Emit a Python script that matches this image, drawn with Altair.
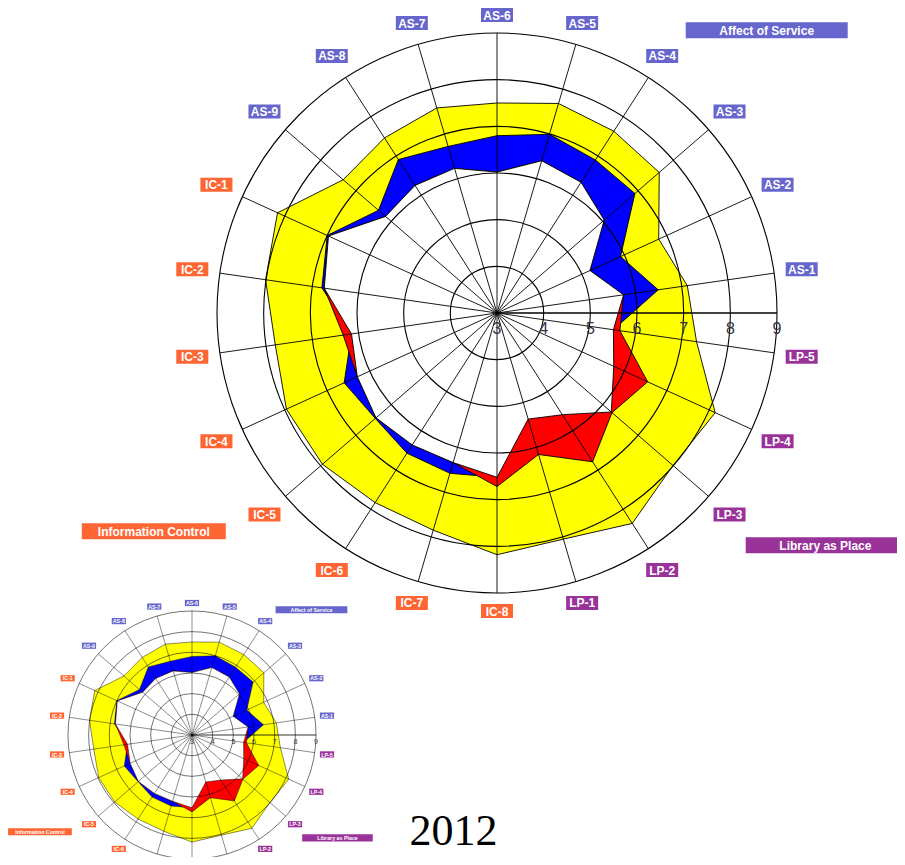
import math
import altair as alt
import pandas as pd

# ---------------- data ----------------
items = ["AS-1", "AS-2", "AS-3", "AS-4", "AS-5", "AS-6", "AS-7", "AS-8", "AS-9",
         "IC-1", "IC-2", "IC-3", "IC-4", "IC-5", "IC-6", "IC-7", "IC-8",
         "LP-1", "LP-2", "LP-3", "LP-4", "LP-5"]
desired = [7.12, 6.81, 7.60, 7.63, 7.68, 7.50, 7.58, 7.46, 7.36,
           8.17, 8.01, 7.80, 7.96, 7.95, 7.83, 7.85, 8.18,
           8.05, 8.36, 7.99, 8.14, 7.32]
perceived = [6.49, 5.91, 6.91, 6.90, 6.99, 6.80, 6.72, 6.91, 6.36,
             7.00, 6.79, 6.15, 6.60, 6.45, 6.57, 6.58, 6.52,
             5.37, 5.59, 6.24, 5.75, 5.52]
minimum = [5.74, 5.19, 6.04, 6.33, 6.40, 6.02, 6.23, 6.25, 6.16,
           6.97, 6.74, 6.33, 6.29, 6.43, 6.36, 6.34, 6.72,
           6.16, 6.79, 6.26, 6.55, 5.66]
dimensions = ["Affect of Service", "Information Control", "Library as Place"]
dim_codes = ["AS", "IC", "LP"]
scale_ticks = [3, 4, 5, 6, 7, 8, 9]
year_label = "2012"

# ---------------- layout / style ----------------
W, H = 889, 849
N = len(items)
VMIN, VMAX = scale_ticks[0], scale_ticks[-1]
R_OUT = 280.0
COPIES = [(497.0, 313.0, 1.0), (192.0, 735.0, 0.443)]
DIM_COLORS = ["#6666cc", "#ff6633", "#993399"]
# group-title boxes: offset from centre (image px, y down) and box width
GROUP_BOX = {"Affect of Service": (269.7, -282.7, 162.0),
             "Information Control": (-343.2, 218.3, 144.0),
             "Library as Place": (328.4, 232.3, 159.4)}
FONT = "Liberation Sans"

xs = alt.Scale(domain=[8, 8 + W], nice=False, zero=False)
ys = alt.Scale(domain=[8, 8 + H], nice=False, zero=False, reverse=True)


def X(f):
    return alt.X(f"{f}:Q", scale=xs, axis=None)


def Y(f):
    return alt.Y(f"{f}:Q", scale=ys, axis=None)


color_scale = alt.Scale(domain=dimensions, range=DIM_COLORS)

df = pd.DataFrame({
    "item": items,
    "idx": list(range(N)),
    "D": desired,
    "P": perceived,
    "M": minimum,
    "dim": [dimensions[dim_codes.index(it.split("-")[0])] for it in items],
})
ticks_df = pd.DataFrame({"v": scale_ticks})
groups_df = pd.DataFrame({
    "dim": dimensions,
    "dx": [GROUP_BOX[d][0] for d in dimensions],
    "dy": [GROUP_BOX[d][1] for d in dimensions],
    "w": [GROUP_BOX[d][2] for d in dimensions],
})

ANG = f"(90 + (datum.idx - 5) * 360 / {N}) * PI / 180"


def radar(cx, cy, s):
    U = R_OUT * s / (VMAX - VMIN)
    lw = max(0.5, 1.0 * s)
    layers = []

    def poly(expr, color):
        return alt.Chart(df).transform_calculate(
            ang=ANG,
            v=expr,
            px=f"{cx} + (datum.v - {VMIN}) * {U} * cos(datum.ang)",
            py=f"{cy} - (datum.v - {VMIN}) * {U} * sin(datum.ang)",
        ).mark_line(
            interpolate="linear-closed", fill=color, stroke="black",
            strokeWidth=0.9 * lw, strokeJoin="miter"
        ).encode(x=X("px"), y=Y("py"), order=alt.Order("idx:Q"))

    layers.append(poly("datum.D", "#ffff00"))
    layers.append(poly("datum.P", "#0000ff"))
    layers.append(poly("datum.M", "#ff0000"))
    layers.append(poly("min(datum.P, datum.M)", "#ffffff"))

    # rings
    layers.append(
        alt.Chart(ticks_df).transform_filter(f"datum.v > {VMIN}").transform_calculate(
            cxv=f"{cx}", cyv=f"{cy}", rr=f"(datum.v - {VMIN}) * {U}"
        ).mark_arc(theta=0, theta2=2 * math.pi, fillOpacity=0, stroke="black",
                   strokeWidth=1.1 * lw).encode(
            x=X("cxv"), y=Y("cyv"),
            radius=alt.Radius("rr:Q", scale=None, stack=None),
            detail="v:Q",
        )
    )
    # spokes
    layers.append(
        alt.Chart(df).transform_calculate(
            ang=ANG,
            x0=f"{cx}", y0=f"{cy}",
            x1=f"{cx} + {R_OUT * s} * cos(datum.ang)",
            y1=f"{cy} - {R_OUT * s} * sin(datum.ang)",
        ).mark_rule(color="black", strokeWidth=0.9 * lw).encode(
            x=X("x0"), y=Y("y0"), x2=alt.X2("x1:Q"), y2=alt.Y2("y1:Q")
        )
    )
    # horizontal scale axis
    layers.append(
        alt.Chart(ticks_df).transform_filter(f"datum.v == {VMAX}").transform_calculate(
            x0=f"{cx}", y0=f"{cy}", x1=f"{cx} + (datum.v - {VMIN}) * {U}"
        ).mark_rule(color="black", strokeWidth=1.6 * lw).encode(
            x=X("x0"), y=Y("y0"), x2=alt.X2("x1:Q")
        )
    )
    # scale numbers
    layers.append(
        alt.Chart(ticks_df).transform_calculate(
            px=f"{cx} + (datum.v - {VMIN}) * {U}", py=f"{cy} + {20.7 * s}"
        ).mark_text(font=FONT, fontSize=16 * s, color="#333344", align="center",
                    baseline="alphabetic").encode(
            x=X("px"), y=Y("py"), text=alt.Text("v:Q")
        )
    )
    # item label boxes + text
    lab = alt.Chart(df).transform_calculate(
        ang=ANG,
        lr=f"{291 * s} + {16 * s} * abs(cos(datum.ang)) + {7 * s} * abs(sin(datum.ang))",
        lx=f"{cx} + datum.lr * cos(datum.ang)",
        ly=f"{cy} - datum.lr * sin(datum.ang)",
        bx0=f"datum.lx - {16 * s}", bx1=f"datum.lx + {16 * s}",
        by0=f"datum.ly - {7 * s}", by1=f"datum.ly + {7 * s}",
    )
    layers.append(
        lab.mark_rect().encode(
            x=X("bx0"), x2=alt.X2("bx1:Q"), y=Y("by0"), y2=alt.Y2("by1:Q"),
            color=alt.Color("dim:N", scale=color_scale, legend=None)
        )
    )
    layers.append(
        lab.mark_text(font=FONT, fontWeight="bold", fontSize=12 * s, color="white",
                      align="center", baseline="middle", dy=0.5 * s).encode(
            x=X("lx"), y=Y("ly"), text=alt.Text("item:N")
        )
    )
    # dimension title boxes
    grp = alt.Chart(groups_df).transform_calculate(
        gx=f"{cx} + datum.dx * {s}", gy=f"{cy} + datum.dy * {s}",
        gx0=f"datum.gx - datum.w * {s} / 2", gx1=f"datum.gx + datum.w * {s} / 2",
        gy0=f"datum.gy - {8 * s}", gy1=f"datum.gy + {8 * s}",
    )
    layers.append(
        grp.mark_rect().encode(
            x=X("gx0"), x2=alt.X2("gx1:Q"), y=Y("gy0"), y2=alt.Y2("gy1:Q"),
            color=alt.Color("dim:N", scale=color_scale, legend=None)
        )
    )
    layers.append(
        grp.mark_text(font=FONT, fontWeight="bold", fontSize=12 * s, color="white",
                      align="center", baseline="middle", dy=0.5 * s).encode(
            x=X("gx"), y=Y("gy"), text=alt.Text("dim:N")
        )
    )
    return layers


all_layers = []
for (cx, cy, s) in COPIES:
    all_layers += radar(cx, cy, s)

year = alt.Chart(pd.DataFrame({"t": [year_label]})).transform_calculate(
    px="453.5", py="845"
).mark_text(font="Liberation Serif", fontSize=44, color="black", align="center",
            baseline="alphabetic").encode(x=X("px"), y=Y("py"), text=alt.Text("t:N"))
all_layers.append(year)

chart = alt.layer(*all_layers).properties(
    width=W, height=H, padding=0,
    autosize=alt.AutoSizeParams(type="none"),
).configure_view(stroke=None)

chart.save("out.html", embed_options={"renderer": "svg", "actions": False})
